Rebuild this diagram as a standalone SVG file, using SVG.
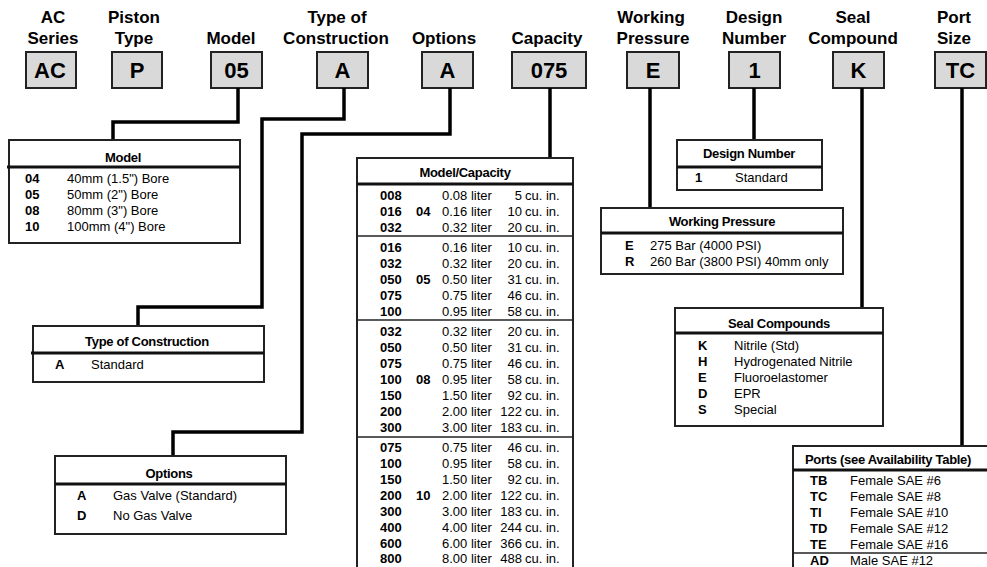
<svg xmlns="http://www.w3.org/2000/svg" width="987" height="567" viewBox="0 0 987 567">
<style>
text{font-family:"Liberation Sans",Arial,sans-serif;fill:#000}
.hl{font-weight:bold;font-size:17px;text-anchor:middle}
.bx rect{fill:#d9d9d9;stroke:#222;stroke-width:2}
.bt{font-weight:bold;font-size:22px;text-anchor:middle}
.tb{fill:#fff;stroke:#222;stroke-width:2}
.sep{stroke:#111;stroke-width:3}
.thin{stroke:#222;stroke-width:1.5}
.th{font-weight:bold;font-size:13px;text-anchor:middle;letter-spacing:-0.3px}
.c{font-weight:bold;font-size:13px}
.t{font-size:13px}
.r{font-size:13px;text-anchor:end}
.conn path{fill:none;stroke:#000;stroke-width:3.5}
</style>

<g id="header-labels">
<text class="hl" x="53" y="22.5">AC</text><text class="hl" x="53" y="43.5">Series</text>
<text class="hl" x="134" y="22.5">Piston</text><text class="hl" x="134" y="43.5">Type</text>
<text class="hl" x="231" y="43.5">Model</text>
<text class="hl" x="337" y="22.5">Type of</text><text class="hl" x="336" y="43.5">Construction</text>
<text class="hl" x="444" y="43.5">Options</text>
<text class="hl" x="547" y="43.5">Capacity</text>
<text class="hl" x="651" y="22.5">Working</text><text class="hl" x="653" y="43.5">Pressure</text>
<text class="hl" x="754" y="22.5">Design</text><text class="hl" x="754" y="43.5">Number</text>
<text class="hl" x="853" y="22.5">Seal</text><text class="hl" x="853" y="43.5">Compound</text>
<text class="hl" x="937" y="22.5" style="text-anchor:start">Port</text><text class="hl" x="937" y="43.5" style="text-anchor:start">Size</text>
</g>

<g id="box-ac" class="bx"><rect x="26" y="52" width="50" height="36"/><text class="bt" x="50" y="78">AC</text></g>
<g id="box-p" class="bx"><rect x="112" y="52" width="50" height="36"/><text class="bt" x="137" y="78">P</text></g>
<g id="box-model" class="bx"><rect x="211" y="52" width="51" height="36"/><text class="bt" x="236.5" y="78">05</text></g>
<g id="box-construction" class="bx"><rect x="317" y="52" width="51" height="36"/><text class="bt" x="342.5" y="78">A</text></g>
<g id="box-options" class="bx"><rect x="422" y="52" width="51" height="36"/><text class="bt" x="447.5" y="78">A</text></g>
<g id="box-capacity" class="bx"><rect x="512" y="52" width="74" height="36"/><text class="bt" x="549" y="78">075</text></g>
<g id="box-pressure" class="bx"><rect x="627" y="52" width="52" height="36"/><text class="bt" x="653" y="78">E</text></g>
<g id="box-design" class="bx"><rect x="729" y="52" width="51" height="36"/><text class="bt" x="754.5" y="78">1</text></g>
<g id="box-seal" class="bx"><rect x="833" y="52" width="51" height="36"/><text class="bt" x="858.5" y="78">K</text></g>
<g id="box-port" class="bx"><rect x="935" y="52" width="51" height="36"/><text class="bt" x="960.5" y="78">TC</text></g>

<g id="connectors" class="conn">
<path d="M238 88 V122 H113 V140"/>
<path d="M344 88 V119 H262 V307 H138 V326"/>
<path d="M450 88 V134 H302 V432 H173 V456"/>
<path d="M550 88 V158"/>
<path d="M650 88 V208"/>
<path d="M754 88 V140"/>
<path d="M862 88 V308"/>
<path d="M962 88 V446"/>
</g>

<g id="table-model">
<rect class="tb" x="9" y="140" width="231" height="103"/>
<line class="sep" x1="7" y1="167" x2="240" y2="167"/>
<text class="th" x="123" y="162">Model</text>
<text class="c" x="25" y="183">04</text><text class="t" x="67" y="183">40mm (1.5") Bore</text>
<text class="c" x="25" y="199">05</text><text class="t" x="67" y="199">50mm (2") Bore</text>
<text class="c" x="25" y="215">08</text><text class="t" x="67" y="215">80mm (3") Bore</text>
<text class="c" x="25" y="231">10</text><text class="t" x="67" y="231">100mm (4") Bore</text>
</g>

<g id="table-construction">
<rect class="tb" x="33" y="326" width="231" height="56"/>
<line class="sep" x1="31" y1="353" x2="264" y2="353"/>
<text class="th" x="147" y="346">Type of Construction</text>
<text class="c" x="55" y="369">A</text><text class="t" x="91" y="369">Standard</text>
</g>

<g id="table-options">
<rect class="tb" x="55" y="456" width="231" height="78"/>
<line class="sep" x1="55" y1="484" x2="286" y2="484"/>
<text class="th" x="169" y="478">Options</text>
<text class="c" x="77" y="500">A</text><text class="t" x="113" y="500">Gas Valve (Standard)</text>
<text class="c" x="77" y="520">D</text><text class="t" x="113" y="520">No Gas Valve</text>
</g>

<g id="table-capacity">
<rect class="tb" x="357" y="158" width="216" height="420"/>
<line class="sep" x1="357" y1="184" x2="573" y2="184"/>
<line class="thin" x1="357" y1="236" x2="573" y2="236"/>
<line class="thin" x1="357" y1="320" x2="573" y2="320"/>
<line class="thin" x1="357" y1="437" x2="573" y2="437"/>
<text class="th" x="465" y="177">Model/Capacity</text>
<text class="c" x="416" y="216">04</text>
<text class="c" x="416" y="284">05</text>
<text class="c" x="416" y="384">08</text>
<text class="c" x="416" y="500">10</text>
<text class="c" x="380" y="200">008</text><text class="t" x="442" y="200">0.08 liter</text><text class="r" x="522" y="200">5</text><text class="t" x="525" y="200">cu. in.</text>
<text class="c" x="380" y="216">016</text><text class="t" x="442" y="216">0.16 liter</text><text class="r" x="522" y="216">10</text><text class="t" x="525" y="216">cu. in.</text>
<text class="c" x="380" y="232">032</text><text class="t" x="442" y="232">0.32 liter</text><text class="r" x="522" y="232">20</text><text class="t" x="525" y="232">cu. in.</text>

<text class="c" x="380" y="252">016</text><text class="t" x="442" y="252">0.16 liter</text><text class="r" x="522" y="252">10</text><text class="t" x="525" y="252">cu. in.</text>
<text class="c" x="380" y="268">032</text><text class="t" x="442" y="268">0.32 liter</text><text class="r" x="522" y="268">20</text><text class="t" x="525" y="268">cu. in.</text>
<text class="c" x="380" y="284">050</text><text class="t" x="442" y="284">0.50 liter</text><text class="r" x="522" y="284">31</text><text class="t" x="525" y="284">cu. in.</text>
<text class="c" x="380" y="300">075</text><text class="t" x="442" y="300">0.75 liter</text><text class="r" x="522" y="300">46</text><text class="t" x="525" y="300">cu. in.</text>
<text class="c" x="380" y="316">100</text><text class="t" x="442" y="316">0.95 liter</text><text class="r" x="522" y="316">58</text><text class="t" x="525" y="316">cu. in.</text>

<text class="c" x="380" y="336">032</text><text class="t" x="442" y="336">0.32 liter</text><text class="r" x="522" y="336">20</text><text class="t" x="525" y="336">cu. in.</text>
<text class="c" x="380" y="352">050</text><text class="t" x="442" y="352">0.50 liter</text><text class="r" x="522" y="352">31</text><text class="t" x="525" y="352">cu. in.</text>
<text class="c" x="380" y="368">075</text><text class="t" x="442" y="368">0.75 liter</text><text class="r" x="522" y="368">46</text><text class="t" x="525" y="368">cu. in.</text>
<text class="c" x="380" y="384">100</text><text class="t" x="442" y="384">0.95 liter</text><text class="r" x="522" y="384">58</text><text class="t" x="525" y="384">cu. in.</text>
<text class="c" x="380" y="400">150</text><text class="t" x="442" y="400">1.50 liter</text><text class="r" x="522" y="400">92</text><text class="t" x="525" y="400">cu. in.</text>
<text class="c" x="380" y="416">200</text><text class="t" x="442" y="416">2.00 liter</text><text class="r" x="522" y="416">122</text><text class="t" x="525" y="416">cu. in.</text>
<text class="c" x="380" y="432">300</text><text class="t" x="442" y="432">3.00 liter</text><text class="r" x="522" y="432">183</text><text class="t" x="525" y="432">cu. in.</text>

<text class="c" x="380" y="452">075</text><text class="t" x="442" y="452">0.75 liter</text><text class="r" x="522" y="452">46</text><text class="t" x="525" y="452">cu. in.</text>
<text class="c" x="380" y="468">100</text><text class="t" x="442" y="468">0.95 liter</text><text class="r" x="522" y="468">58</text><text class="t" x="525" y="468">cu. in.</text>
<text class="c" x="380" y="484">150</text><text class="t" x="442" y="484">1.50 liter</text><text class="r" x="522" y="484">92</text><text class="t" x="525" y="484">cu. in.</text>
<text class="c" x="380" y="500">200</text><text class="t" x="442" y="500">2.00 liter</text><text class="r" x="522" y="500">122</text><text class="t" x="525" y="500">cu. in.</text>
<text class="c" x="380" y="516">300</text><text class="t" x="442" y="516">3.00 liter</text><text class="r" x="522" y="516">183</text><text class="t" x="525" y="516">cu. in.</text>
<text class="c" x="380" y="532">400</text><text class="t" x="442" y="532">4.00 liter</text><text class="r" x="522" y="532">244</text><text class="t" x="525" y="532">cu. in.</text>
<text class="c" x="380" y="548">600</text><text class="t" x="442" y="548">6.00 liter</text><text class="r" x="522" y="548">366</text><text class="t" x="525" y="548">cu. in.</text>
<text class="c" x="380" y="563">800</text><text class="t" x="442" y="563">8.00 liter</text><text class="r" x="522" y="563">488</text><text class="t" x="525" y="563">cu. in.</text>
</g>

<g id="table-design">
<rect class="tb" x="677" y="140" width="145" height="50"/>
<line class="sep" x1="677" y1="167" x2="822" y2="167"/>
<text class="th" x="749" y="158">Design Number</text>
<text class="c" x="695" y="182">1</text><text class="t" x="735" y="182">Standard</text>
</g>

<g id="table-pressure">
<rect class="tb" x="601" y="208" width="242" height="66"/>
<line class="sep" x1="601" y1="233" x2="843" y2="233"/>
<text class="th" x="722" y="226">Working Pressure</text>
<text class="c" x="625" y="250">E</text><text class="t" x="650" y="250">275 Bar (4000 PSI)</text>
<text class="c" x="625" y="266">R</text><text class="t" x="650" y="266">260 Bar (3800 PSI) 40mm only</text>
</g>

<g id="table-seal">
<rect class="tb" x="675" y="308" width="208" height="118"/>
<line class="sep" x1="675" y1="333" x2="883" y2="333"/>
<text class="th" x="779" y="328">Seal Compounds</text>
<text class="c" x="698" y="350">K</text><text class="t" x="734" y="350">Nitrile (Std)</text>
<text class="c" x="698" y="366">H</text><text class="t" x="734" y="366">Hydrogenated Nitrile</text>
<text class="c" x="698" y="382">E</text><text class="t" x="734" y="382">Fluoroelastomer</text>
<text class="c" x="698" y="398">D</text><text class="t" x="734" y="398">EPR</text>
<text class="c" x="698" y="414">S</text><text class="t" x="734" y="414">Special</text>
</g>

<g id="table-ports">
<rect class="tb" x="793" y="446" width="200" height="130"/>
<line class="sep" x1="793" y1="470" x2="993" y2="470"/>
<line class="thin" x1="793" y1="553" x2="993" y2="553"/>
<text class="th" x="805" y="464" style="text-anchor:start">Ports (see Availability Table)</text>
<text class="c" x="810" y="485">TB</text><text class="t" x="850" y="485">Female SAE #6</text>
<text class="c" x="810" y="501">TC</text><text class="t" x="850" y="501">Female SAE #8</text>
<text class="c" x="810" y="517">TI</text><text class="t" x="850" y="517">Female SAE #10</text>
<text class="c" x="810" y="533">TD</text><text class="t" x="850" y="533">Female SAE #12</text>
<text class="c" x="810" y="549">TE</text><text class="t" x="850" y="549">Female SAE #16</text>
<text class="c" x="810" y="565">AD</text><text class="t" x="850" y="565">Male SAE #12</text>
</g>
</svg>
